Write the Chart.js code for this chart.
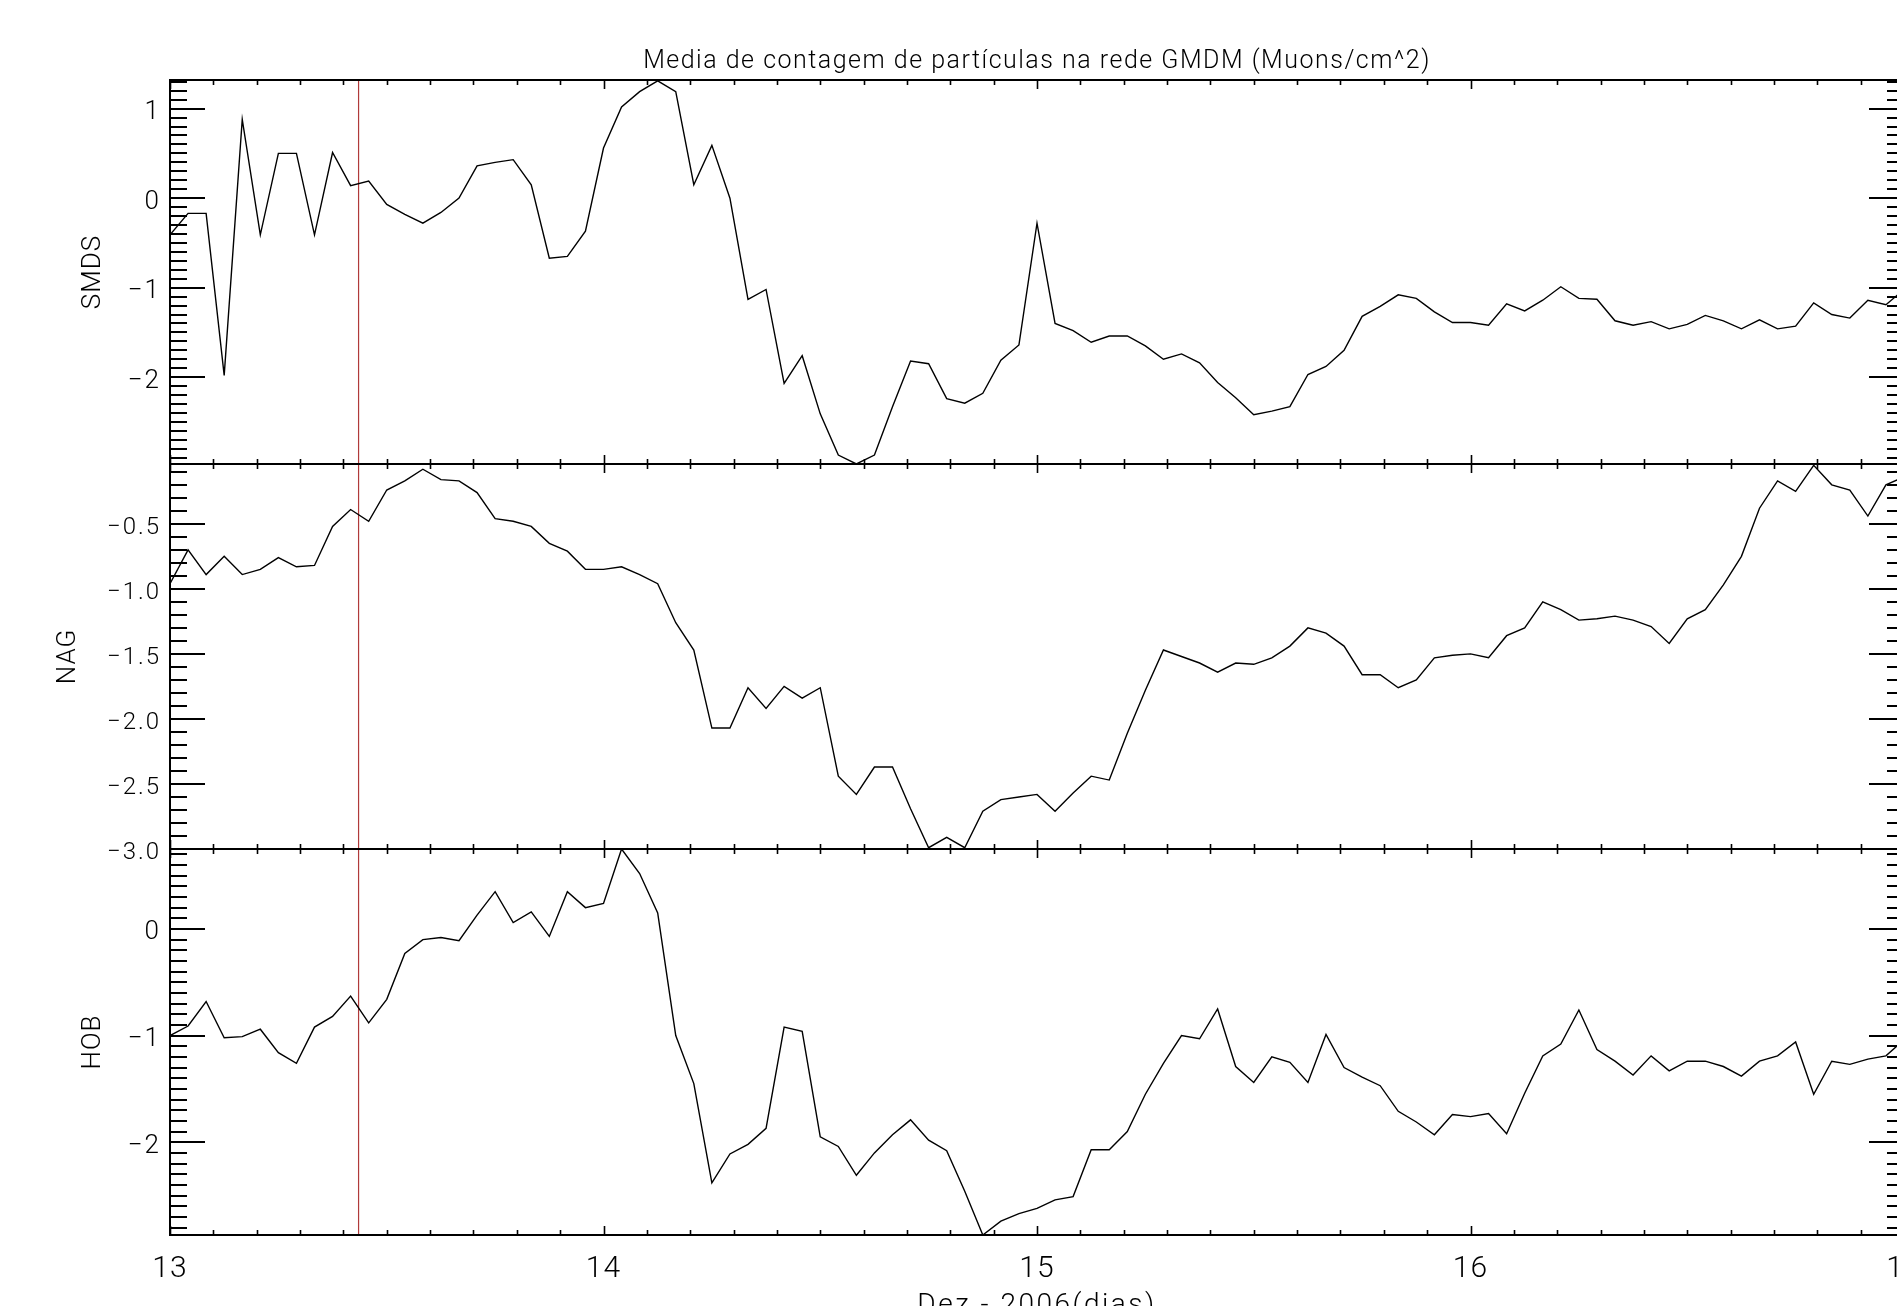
<!DOCTYPE html>
<html>
<head>
<meta charset="utf-8">
<script src="https://cdn.jsdelivr.net/npm/chart.js@4.4.1/dist/chart.umd.min.js"></script>
<style>
html, body { margin: 0; padding: 0; background: #fff; overflow: hidden; }
#wrap { position: relative; width: 1897px; height: 1306px; overflow: hidden; background: #fff; }
#wrap canvas { position: absolute; left: 0; top: 0; }
</style>
</head>
<body>
<div id="wrap">
  <canvas id="smds" width="1920" height="1306"></canvas>
  <canvas id="nag" width="1920" height="1306"></canvas>
  <canvas id="hob" width="1920" height="1306"></canvas>
</div>
<script>
// hourly samples, 13 Dec 00h .. 17 Dec 00h
const startDay = 13
const endDay = 17
const dayTicks = [13, 14, 15, 16, 17]
const markerDay = 13.435

const smdsValues = [
    -0.41, -0.17, -0.17, -1.98, 0.88, -0.41, 0.50, 0.50, -0.41, 0.51,
    0.14, 0.19, -0.07, -0.18, -0.28, -0.16, 0.00, 0.36, 0.40, 0.43,
    0.15, -0.67, -0.65, -0.37, 0.56, 1.02, 1.19, 1.31, 1.19, 0.15,
    0.59, 0.00, -1.13, -1.02, -2.07, -1.76, -2.41, -2.87, -2.97, -2.87,
    -2.33, -1.82, -1.85, -2.24, -2.29, -2.18, -1.81, -1.64, -0.28, -1.40,
    -1.48, -1.61, -1.54, -1.54, -1.65, -1.80, -1.74, -1.84, -2.06, -2.23,
    -2.42, -2.38, -2.33, -1.97, -1.88, -1.70, -1.32, -1.21, -1.08, -1.12,
    -1.27, -1.39, -1.39, -1.42, -1.18, -1.26, -1.14, -0.99, -1.12, -1.13,
    -1.37, -1.42, -1.38, -1.46, -1.41, -1.31, -1.37, -1.46, -1.36, -1.46,
    -1.43, -1.17, -1.30, -1.34, -1.14, -1.19, -1.02
]

const nagValues = [
    -0.96, -0.70, -0.89, -0.75, -0.89, -0.85, -0.76, -0.83, -0.82, -0.52,
    -0.39, -0.48, -0.24, -0.17, -0.08, -0.16, -0.17, -0.26, -0.46, -0.48,
    -0.52, -0.65, -0.71, -0.85, -0.85, -0.83, -0.89, -0.96, -1.26, -1.47,
    -2.07, -2.07, -1.76, -1.92, -1.75, -1.84, -1.76, -2.44, -2.58, -2.37,
    -2.37, -2.69, -2.99, -2.91, -2.99, -2.71, -2.62, -2.60, -2.58, -2.71,
    -2.57, -2.44, -2.47, -2.11, -1.78, -1.47, -1.52, -1.57, -1.64, -1.57,
    -1.58, -1.53, -1.44, -1.30, -1.34, -1.44, -1.66, -1.66, -1.76, -1.70,
    -1.53, -1.51, -1.50, -1.53, -1.36, -1.30, -1.10, -1.16, -1.24, -1.23,
    -1.21, -1.24, -1.29, -1.42, -1.23, -1.16, -0.97, -0.75, -0.38, -0.17,
    -0.25, -0.05, -0.20, -0.24, -0.44, -0.20, -0.14
]

const hobValues = [
    -1.00, -0.91, -0.68, -1.02, -1.01, -0.94, -1.16, -1.26, -0.92, -0.82,
    -0.63, -0.88, -0.66, -0.23, -0.10, -0.08, -0.11, 0.13, 0.35, 0.06,
    0.16, -0.07, 0.35, 0.20, 0.24, 0.75, 0.52, 0.15, -1.00, -1.45,
    -2.38, -2.11, -2.02, -1.87, -0.92, -0.96, -1.95, -2.04, -2.31, -2.10,
    -1.93, -1.79, -1.98, -2.08, -2.46, -2.87, -2.74, -2.67, -2.62, -2.54,
    -2.51, -2.07, -2.07, -1.90, -1.55, -1.26, -1.00, -1.03, -0.75, -1.29,
    -1.44, -1.20, -1.25, -1.44, -0.99, -1.30, -1.39, -1.47, -1.71, -1.81,
    -1.93, -1.74, -1.76, -1.73, -1.92, -1.54, -1.19, -1.08, -0.76, -1.13,
    -1.24, -1.37, -1.19, -1.33, -1.24, -1.24, -1.29, -1.38, -1.24, -1.19,
    -1.06, -1.55, -1.24, -1.27, -1.22, -1.19, -1.04
]

const smdsTicks = [1, 0, -1, -2]
const smdsTickLabels = ['1', '0', '\u22121', '\u22122']
const nagTicks = [-0.5, -1.0, -1.5, -2.0, -2.5, -3.0]
const nagTickLabels = ['\u22120.5', '\u22121.0', '\u22121.5', '\u22122.0', '\u22122.5', '\u22123.0']
const hobTicks = [0, -1, -2]
const hobTickLabels = ['0', '\u22121', '\u22122']

const chartTitle = 'Media de contagem de partículas na rede GMDM (Muons/cm^2)'
const xTitle = 'Dez - 2006(dias)'

const FONT = 'Roboto, "Liberation Sans", sans-serif'
const CANVAS_H = 1306

function toPoints(values){
    return values.map((v, i) => ({x: startDay + i / 24, y: v}))
}

function drawLine(ctx, x1, y1, x2, y2){
    ctx.beginPath()
    ctx.moveTo(x1, y1)
    ctx.lineTo(x2, y2)
    ctx.stroke()
}

function panelAxes(cfg){
    return {
        id: 'panelAxes',
        afterDatasetsDraw(chart){
            const {ctx, chartArea: a} = chart
            const x = chart.scales.x
            const y = chart.scales.y
            ctx.save()
            ctx.strokeStyle = '#000'
            ctx.fillStyle = '#000'

            // y ticks, left and right, pointing inward
            ctx.lineWidth = 2
            const first = Math.ceil(y.min * 10 - 1e-6)
            const last = Math.floor(y.max * 10 + 1e-6)
            for(let k = first; k <= last; k++){
                const v = k / 10
                const py = Math.round(y.getPixelForValue(v))
                const major = cfg.ticks.some(t => Math.abs(t - v) < 1e-6)
                const len = major ? 35 : 17
                drawLine(ctx, a.left, py, a.left + len, py)
                drawLine(ctx, a.right, py, a.right - len, py)
            }

            // x ticks on top and bottom edges
            ctx.lineWidth = 1.6
            for(let k = startDay * 10; k <= endDay * 10; k++){
                const px = Math.round(x.getPixelForValue(k / 10)) + 0.5
                const len = k % 10 === 0 ? 9 : 5
                drawLine(ctx, px, a.top, px, a.top + len)
                drawLine(ctx, px, a.bottom, px, a.bottom - len)
            }

            // frame
            ctx.lineWidth = 2
            ctx.strokeRect(a.left, a.top, a.right - a.left, a.bottom - a.top)

            // y tick labels
            ctx.font = '300 ' + cfg.tickSize + 'px ' + FONT
            ctx.letterSpacing = '2px'
            ctx.textAlign = 'right'
            ctx.textBaseline = 'middle'
            cfg.ticks.forEach((t, i) => {
                ctx.fillText(cfg.tickLabels[i], a.left - 9, y.getPixelForValue(t) + 4)
            })
            ctx.letterSpacing = '0px'

            // y title
            ctx.save()
            ctx.font = '300 26px ' + FONT
            ctx.letterSpacing = '1px'
            ctx.textAlign = 'center'
            ctx.translate(cfg.titleX, (a.top + a.bottom) / 2)
            ctx.rotate(-Math.PI / 2)
            ctx.fillText(cfg.title, 0, 0)
            ctx.restore()

            if(cfg.showTitle){
                ctx.font = '300 25px ' + FONT
                ctx.letterSpacing = '1.5px'
                ctx.textAlign = 'center'
                ctx.textBaseline = 'alphabetic'
                ctx.fillText(chartTitle, x.getPixelForValue((startDay + endDay) / 2), 68)
                ctx.letterSpacing = '0px'
            }

            if(cfg.showXAxis){
                ctx.font = '300 30px ' + FONT
                ctx.letterSpacing = '1px'
                ctx.textAlign = 'center'
                ctx.textBaseline = 'middle'
                dayTicks.forEach(d => {
                    ctx.fillText(String(d), x.getPixelForValue(d), a.bottom + 34)
                })
                ctx.font = '300 28px ' + FONT
                ctx.letterSpacing = '2.5px'
                ctx.textBaseline = 'alphabetic'
                ctx.fillText(xTitle, x.getPixelForValue((startDay + endDay) / 2), 1313)
                ctx.letterSpacing = '0px'
            }
            ctx.restore()
        }
    }
}

function makePanel(cfg){
    const canvas = document.getElementById(cfg.id)
    return new Chart(canvas, {
        type: 'line',
        data: {
            datasets: [
                {
                    data: toPoints(cfg.values),
                    borderColor: '#000',
                    borderWidth: 1.4,
                    pointRadius: 0,
                    tension: 0,
                    fill: false
                },
                {
                    data: [{x: markerDay, y: cfg.min}, {x: markerDay, y: cfg.max}],
                    borderColor: '#b03a3a',
                    borderWidth: 1.2,
                    pointRadius: 0,
                    fill: false
                }
            ]
        },
        options: {
            responsive: false,
            animation: false,
            devicePixelRatio: 1,
            events: [],
            layout: {
                padding: {left: 170, right: 16, top: cfg.top, bottom: CANVAS_H - cfg.bottom}
            },
            plugins: {
                legend: {display: false},
                tooltip: {enabled: false},
                title: {display: false}
            },
            scales: {
                x: {type: 'linear', min: startDay, max: endDay, display: false},
                y: {type: 'linear', min: cfg.min, max: cfg.max, display: false}
            }
        },
        plugins: [panelAxes(cfg)]
    })
}

makePanel({
    id: 'smds', values: smdsValues, min: -2.97, max: 1.32,
    top: 80, bottom: 464,
    ticks: smdsTicks, tickLabels: smdsTickLabels, tickSize: 26,
    title: 'SMDS', titleX: 93, showTitle: true
})

makePanel({
    id: 'nag', values: nagValues, min: -3.0, max: -0.04,
    top: 464, bottom: 849,
    ticks: nagTicks, tickLabels: nagTickLabels, tickSize: 24,
    title: 'NAG', titleX: 68
})

makePanel({
    id: 'hob', values: hobValues, min: -2.87, max: 0.75,
    top: 849, bottom: 1235,
    ticks: hobTicks, tickLabels: hobTickLabels, tickSize: 26,
    title: 'HOB', titleX: 93, showXAxis: true
})
</script>
</body>
</html>
